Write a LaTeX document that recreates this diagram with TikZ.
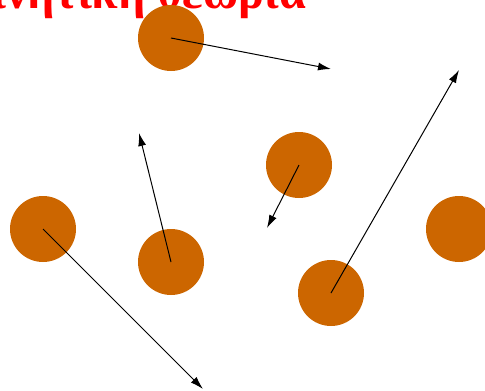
\documentclass[tikz,border=0pt]{standalone}
\usepackage{fontspec}
\setmainfont{Liberation Serif}
\usepackage{tikz}
\usetikzlibrary{arrows.meta,positioning}
\definecolor{molcolor}{RGB}{204,102,0}
\tikzset{>={Latex[length=13pt,width=8pt]}}
\tikzset{molecule/.style={circle, fill=molcolor, minimum size=66pt, inner sep=0pt}}
\tikzset{velocity/.style={->, line width=1pt, black}}

\begin{document}
\begin{tikzpicture}[x=1pt,y=-1pt]
          \useasboundingbox (0,0) rectangle (485,391);
          % title, only its lower part shows
          \node[anchor=base east, text=red, font=\fontsize{48}{48}\selectfont\bfseries, inner sep=0pt] (title) at (306,8) {Κινητική θεωρία};
          \foreach \n/\x/\y in {ma/171/38, mb/299/165, mc/43/229, md/171/262, me/331/293, mf/459/229}
            \node[molecule] (\n) at (\x,\y) {};
          \foreach \n/\x/\y in {ta/331/69, tb/267/228, tc/203/389, td/139/133, te/459/70}
            \coordinate (\n) at (\x,\y);
          \foreach \a/\b in {ma/ta, mb/tb, mc/tc, md/td, me/te}
            \draw[velocity] (\a.center) -- (\b);
        \end{tikzpicture}
\end{document}
